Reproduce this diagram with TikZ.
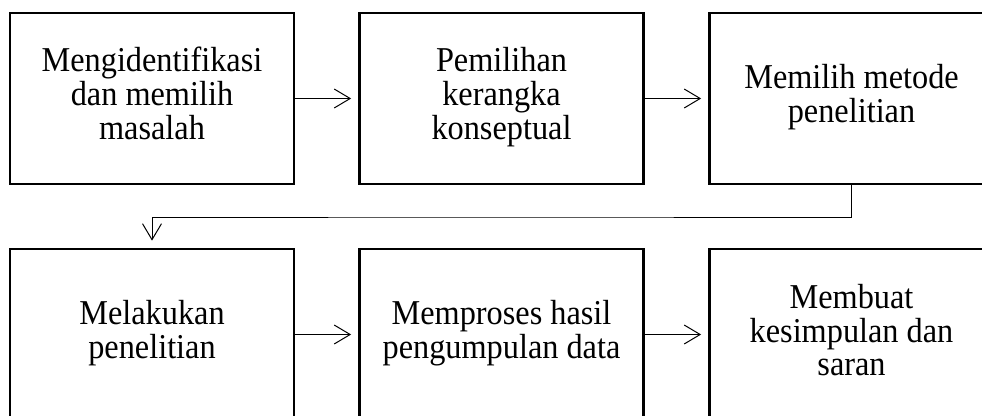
\documentclass[tikz,border=0pt]{standalone}
\usepackage{fontspec}
\setmainfont{Liberation Serif}
\usetikzlibrary{arrows.meta}
\newcommand{\boxtext}[1]{\scalebox{1}[1.08]{\begin{tabular}{@{}c@{}}#1\end{tabular}}}
\begin{document}
\begin{tikzpicture}[x=1pt,y=1pt,
  stepbox/.style={draw, line width=2.7pt, minimum width=284pt, minimum height=171pt, inner sep=0pt, font=\fontsize{32.3}{30.2}\selectfont},
  arr/.style={line width=1pt, -{Straight Barb[length=16pt,width=19pt,line width=1pt]}, shorten >=7pt}]
\useasboundingbox (0,0) rectangle (982,-415);
\clip (0,0) rectangle (982,-415);
\node[stepbox] (b1) at (152,-98.5) {\boxtext{Mengidentifikasi\\dan memilih\\masalah}};
\node[stepbox] (b2) at (501.5,-98.5) {\boxtext{Pemilihan\\kerangka\\konseptual}};
\node[stepbox] (b3) at (851.5,-98.5) {\boxtext{Memilih metode\\penelitian}};
\node[stepbox] (b4) at (152,-334.5) {\boxtext{Melakukan\\penelitian}};
\node[stepbox] (b5) at (501.5,-334.5) {\boxtext{Memproses hasil\\pengumpulan data}};
\node[stepbox] (b6) at (851.5,-334.5) {\boxtext{Membuat\\kesimpulan dan\\saran}};
\coordinate (k) at (500,-217);
\draw[arr] (b1.east) -- (b2.west);
\draw[arr] (b2.east) -- (b3.west);
\draw[arr] (b3.south) |- (k) -| (b4.north);
\draw[arr] (b4.east) -- (b5.west);
\draw[arr] (b5.east) -- (b6.west);
\end{tikzpicture}
\end{document}
